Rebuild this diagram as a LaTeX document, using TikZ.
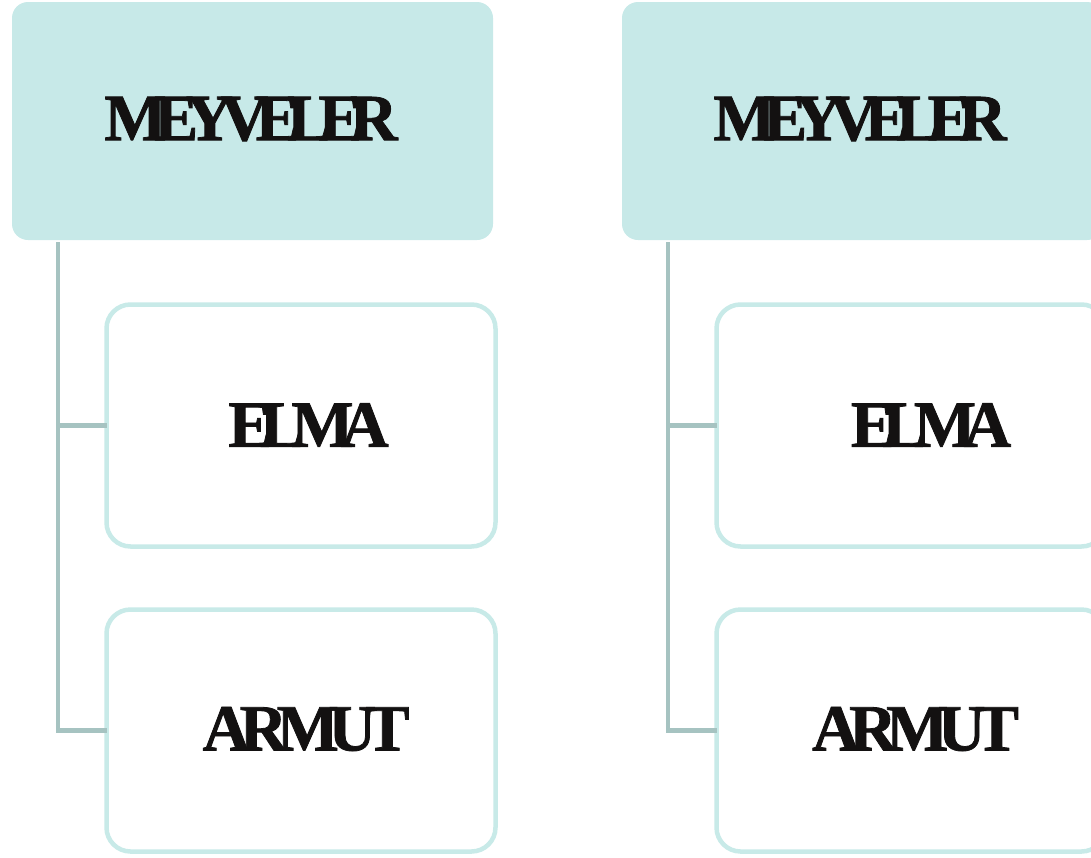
\documentclass[tikz,border=0pt]{standalone}
\usepackage{fontspec}
\setmainfont{Liberation Serif}[Kerning=Off,BoldFeatures={FakeBold=1.2}]
\definecolor{headfill}{HTML}{C7E9E8}
\definecolor{childline}{HTML}{C8EAE8}
\definecolor{connline}{HTML}{A6C3C1}
\definecolor{inkc}{HTML}{131111}
\newcommand\tk{\kern-12.6pt}
\newcommand\tka{\kern-10.6pt}
\tikzset{
  headbox/.style={fill=headfill, draw=none, rounded corners=16pt, minimum width=481pt, minimum height=238pt, inner sep=0pt, outer sep=0pt},
  childbox/.style={fill=white, draw=childline, line width=4.5pt, rounded corners=24pt, minimum width=389pt, minimum height=242pt, inner sep=0pt, outer sep=0pt},
  conn/.style={draw=connline, line width=4.5pt},
  lbl/.style={text=inkc, font=\fontsize{66}{70}\selectfont\bfseries, inner sep=0pt}
}
\begin{document}
\begin{tikzpicture}[x=1pt,y=-1pt]
\useasboundingbox (0,0) rectangle (1091,857);
% left group
\node[headbox] (h1) at (252.5,121) {};
\node[childbox] (a1) at (301,425.5) {};
\node[childbox] (b1) at (301,730.5) {};
\coordinate (s1) at (58,242);
\draw[conn] (s1) |- (b1.west);
\draw[conn] (s1 |- a1.west) -- (a1.west);
\node[lbl] (t1) at (251,119) {M\tk E\tk Y\tk V\tk E\tk L\tk E\tk R};
\node[lbl] (e1) at (308.5,425) {E\tk L\tk M\tk A};
\node[lbl] (r1) at (306,729) {A\tka R\tka M\tka U\tka T};
% right group
\node[headbox] (h2) at (862.5,121) {};
\node[childbox] (a2) at (911,425.5) {};
\node[childbox] (b2) at (911,730.5) {};
\coordinate (s2) at (668,242);
\draw[conn] (s2) |- (b2.west);
\draw[conn] (s2 |- a2.west) -- (a2.west);
\node[lbl] (t2) at (860,119) {M\tk E\tk Y\tk V\tk E\tk L\tk E\tk R};
\node[lbl] (e2) at (931,425) {E\tk L\tk M\tk A};
\node[lbl] (r2) at (915.5,729) {A\tka R\tka M\tka U\tka T};
\end{tikzpicture}
\end{document}
